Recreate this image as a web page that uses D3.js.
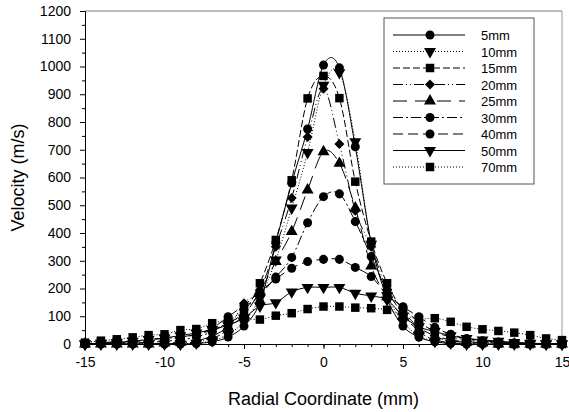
<!DOCTYPE html>
<html>
<head>
<meta charset="utf-8">
<script src="https://cdn.jsdelivr.net/npm/d3@7"></script>
<style>
  body { margin: 0; background: #fff; }
  text { font-family: "Liberation Sans", Arial, sans-serif; fill: #000; }
</style>
</head>
<body>
<script>

// radial positions (mm)
var radial = [-15,-14,-13,-12,-11,-10,-9,-8,-7,-6,-5,-4,-3,-2,-1,0,1,2,3,4,5,6,7,8,9,10,11,12,13,14,15];

// velocity (m/s) for each distance from nozzle
var v5mm  = [0,0,0,0,0,0,0,2,8,25,65,150,365,580,775,1005,995,711,365,165,65,25,8,2,0,0,0,0,0,0,0];
var v10mm = [0,0,0,0,0,0,0,3,12,35,80,165,303,490,690,933,978,729,360,175,80,30,10,3,0,0,0,0,0,0,0];
var v15mm = [2,5,8,10,15,20,25,35,50,75,116,219,375,590,885,966,886,585,369,219,120,60,30,15,8,5,3,0,0,0,0];
var v20mm = [0,0,0,0,0,0,3,8,20,55,147,195,350,526,746,920,721,480,350,195,110,45,15,5,2,0,0,0,0,0,0];
var v25mm = [0,0,0,0,0,3,6,12,28,60,105,190,297,405,555,693,651,490,281,170,100,50,25,12,6,3,0,0,0,0,0];
var v30mm = [0,0,2,4,6,10,15,25,45,80,125,177,241,312,437,531,541,441,315,195,130,80,45,25,15,8,4,2,0,0,0];
var v40mm = [0,2,4,6,10,15,22,35,57,98,140,188,234,273,297,305,305,276,243,177,134,98,60,35,20,12,7,4,2,0,0];
var v50mm = [0,3,6,10,16,22,30,40,52,68,94,137,149,188,204,204,204,183,173,159,100,62,45,30,20,15,10,6,3,1,0];
var v70mm = [5,12,17,24,32,35,50,54,75,85,92,88,102,111,126,135,135,131,129,123,105,90,93,80,62,53,47,41,32,20,14];

var seriesNames = ["5mm","10mm","15mm","20mm","25mm","30mm","40mm","50mm","70mm"];
var seriesValues = [v5mm, v10mm, v15mm, v20mm, v25mm, v30mm, v40mm, v50mm, v70mm];

var xTicks = [-15,-10,-5,0,5,10,15];
var yTicks = [0,100,200,300,400,500,600,700,800,900,1000,1100,1200];

// line / marker style per series
var dashes  = [null, "1,2", "7,3", "10,3,1,3,1,3", "14,8", "10,3,2,3", "10,5", null, "1,2"];
var symbols = ["circle","down","square","diamond","up","circle","circle","down","square"];

var W = 569, H = 412;
var margin = {top: 11, right: 7, bottom: 68, left: 85},
    width = W - margin.left - margin.right,
    height = H - margin.top - margin.bottom;

var svg = d3.select("body").append("svg")
    .attr("width", W)
    .attr("height", H);

var g = svg.append("g")
    .attr("transform", "translate(" + margin.left + "," + margin.top + ")");

var x = d3.scaleLinear().domain([-15, 15]).range([0, width]);
var y = d3.scaleLinear().domain([0, 1200]).range([height, 0]);

// frame top/right
g.append("line").attr("x1", 0).attr("x2", width).attr("y1", 0).attr("y2", 0)
  .attr("stroke", "#777").attr("stroke-width", 1);
g.append("line").attr("x1", width).attr("x2", width).attr("y1", 0).attr("y2", height)
  .attr("stroke", "#999").attr("stroke-width", 1);

// minor ticks
var xAxisMinor = d3.axisBottom(x).tickValues(radial).tickSize(3).tickFormat("");
g.append("g").attr("transform", "translate(0," + height + ")").call(xAxisMinor)
  .call(function(s) { s.select(".domain").remove(); });
var yAxisMinor = d3.axisLeft(y).tickValues(d3.range(50, 1200, 100)).tickSize(3).tickFormat("");
g.append("g").call(yAxisMinor).call(function(s) { s.select(".domain").remove(); });

var plain = function(d) { return String(d); };
var xAxis = d3.axisBottom(x).tickValues(xTicks).tickSize(5).tickPadding(8).tickFormat(plain);
var yAxis = d3.axisLeft(y).tickValues(yTicks).tickSize(5).tickPadding(9).tickFormat(plain);

g.append("g").attr("class", "x axis").attr("transform", "translate(0," + height + ")").call(xAxis);
g.append("g").attr("class", "y axis").call(yAxis);

g.selectAll(".axis text").style("font-size", "14px");
g.selectAll(".axis .domain").attr("stroke", "#000");

svg.append("text")
  .attr("x", margin.left + width / 2)
  .attr("y", 405)
  .attr("text-anchor", "middle")
  .style("font-size", "18px")
  .text("Radial Coordinate (mm)");

svg.append("text")
  .attr("transform", "translate(24," + (margin.top + height / 2) + ") rotate(-90)")
  .attr("text-anchor", "middle")
  .style("font-size", "18px")
  .text("Velocity (m/s)");

function symbolPath(kind) {
  if (kind == "circle") return d3.symbol().type(d3.symbolCircle).size(64)();
  if (kind == "square") return d3.symbol().type(d3.symbolSquare).size(72)();
  if (kind == "diamond") return d3.symbol().type(d3.symbolSquare).size(50)();
  return d3.symbol().type(d3.symbolTriangle).size(62)();
}
function symbolRotate(kind) {
  if (kind == "diamond") return " rotate(45)";
  if (kind == "down") return " rotate(180)";
  return "";
}

// spline through the points, like the original plot
var line = d3.line()
    .x(function(d) { return x(d[0]); })
    .y(function(d) { return y(d[1]); })
    .curve(d3.curveCatmullRom.alpha(0));

seriesValues.forEach(function(vals, i) {
  var pts = radial.map(function(r, j) { return [r, vals[j]]; });
  var s = g.append("g").attr("class", "series");
  s.append("path")
    .datum(pts)
    .attr("d", line)
    .attr("fill", "none")
    .attr("stroke", "#000")
    .attr("stroke-width", 1)
    .attr("stroke-dasharray", dashes[i]);
  s.selectAll("path.mark")
    .data(pts)
    .enter().append("path")
    .attr("class", "mark")
    .attr("d", symbolPath(symbols[i]))
    .attr("transform", function(d) {
      return "translate(" + x(d[0]) + "," + y(d[1]) + ")" + symbolRotate(symbols[i]);
    })
    .attr("fill", "#000");
});

// legend
var legend = svg.append("g").attr("class", "legend");
legend.append("rect")
  .attr("x", 384).attr("y", 18)
  .attr("width", 150).attr("height", 166)
  .attr("fill", "#fff")
  .attr("stroke", "#555")
  .attr("stroke-width", 1);

var ls_h = 16.5;
seriesNames.forEach(function(name, i) {
  var ly = 35 + i * ls_h;
  legend.append("line")
    .attr("x1", 393).attr("x2", 465)
    .attr("y1", ly).attr("y2", ly)
    .attr("stroke", "#000")
    .attr("stroke-width", 1)
    .attr("stroke-dasharray", dashes[i]);
  legend.append("path")
    .attr("d", symbolPath(symbols[i]))
    .attr("transform", "translate(430," + ly + ")" + symbolRotate(symbols[i]))
    .attr("fill", "#000");
  legend.append("text")
    .attr("x", 481)
    .attr("y", ly + 5)
    .style("font-size", "13px")
    .text(name);
});

</script>
</body>
</html>
